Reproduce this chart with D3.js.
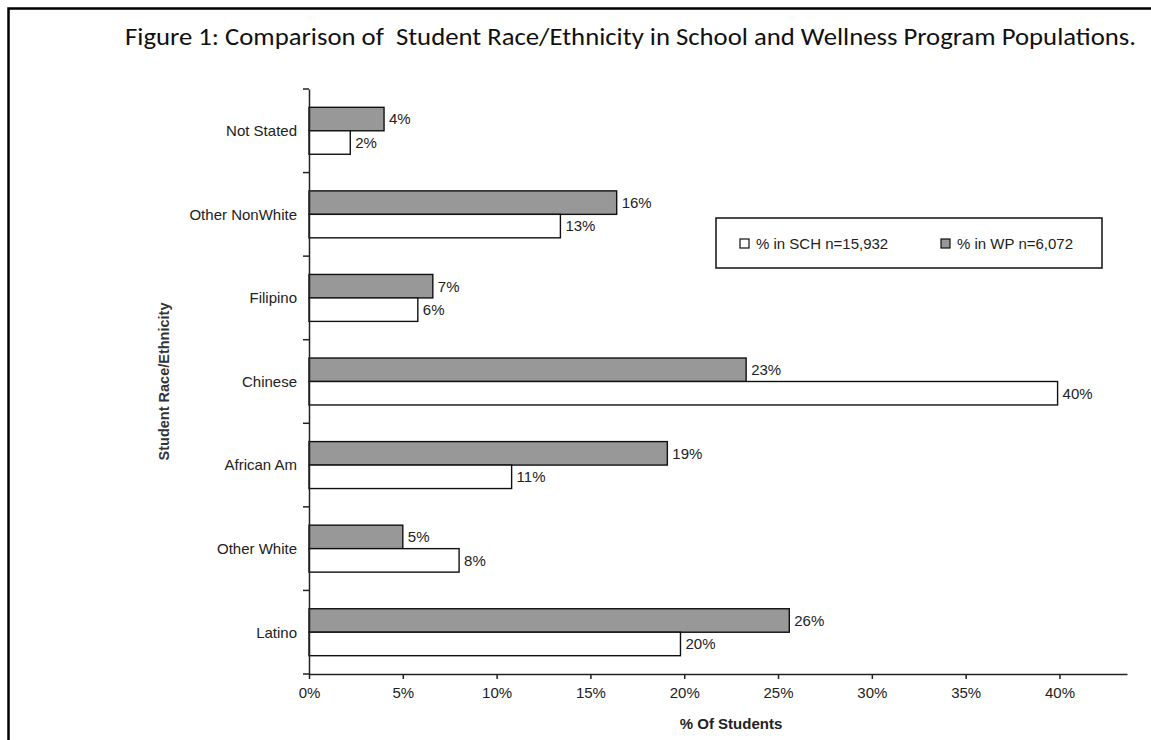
<!DOCTYPE html>
<html>
<head>
<meta charset="utf-8">
<script src="https://cdn.jsdelivr.net/npm/d3@7"></script>
<style>
  html, body { margin: 0; padding: 0; background: #fff; }
  svg { display: block; }
  .axis text { font-family: "Liberation Sans", Arial, sans-serif; font-size: 15px; fill: #222; }
  .axis path, .axis line { stroke: #222; stroke-width: 1.5; }
</style>
</head>
<body>
<div id="chart"></div>
<script>
// Data (percent of students)
const categories = ["Not Stated", "Other NonWhite", "Filipino", "Chinese", "African Am", "Other White", "Latino"];
const wpValues = [4.0, 16.4, 6.6, 23.3, 19.1, 5.0, 25.6];   // % in WP (gray)
const schValues = [2.2, 13.4, 5.8, 39.9, 10.8, 8.0, 19.8];  // % in SCH (white)
const xTicks = [0, 5, 10, 15, 20, 25, 30, 35, 40];
const seriesNames = ["WP", "SCH"];
const legendLabels = ["% in SCH n=15,932", "% in WP n=6,072"];
const titleText = "Figure 1: Comparison of  Student Race/Ethnicity in School and Wellness Program Populations.";

const width = 1151, height = 740;
const margin = { top: 89, left: 309, right: 24, bottom: 66 };
const innerW = width - margin.left - margin.right;
const innerH = height - margin.top - margin.bottom;
const fillFor = { WP: "#989898", SCH: "#ffffff" };
const font = '"Liberation Sans", Arial, sans-serif';

const svg = d3.select("#chart").append("svg")
  .attr("width", width).attr("height", height);

// page frame (only top and left edges visible)
svg.append("rect")
  .attr("x", 8.5).attr("y", 8.5).attr("width", 1300).attr("height", 900)
  .attr("fill", "none").attr("stroke", "#000").attr("stroke-width", 2.5);

svg.append("text")
  .attr("x", 125).attr("y", 45)
  .attr("textLength", 1011).attr("lengthAdjust", "spacingAndGlyphs")
  .style("white-space", "pre")
  .style("font-family", "Carlito, Calibri, 'Open Sans', sans-serif")
  .style("font-size", "24px").attr("fill", "#111")
  .text(titleText);

const g = svg.append("g").attr("transform", `translate(${margin.left},${margin.top})`);

const x = d3.scaleLinear().domain([0, 43.6]).range([0, innerW]);
const y = d3.scaleBand().domain(categories).range([0, innerH]);
const ySub = d3.scaleBand().domain(seriesNames).range([0, y.bandwidth()]).paddingOuter(0.78);

const rows = categories.map((c, i) => ({ cat: c, WP: wpValues[i], SCH: schValues[i] }));

const groups = g.selectAll(".cat").data(rows).join("g")
  .attr("class", "cat")
  .attr("transform", d => `translate(0,${y(d.cat)})`);

groups.selectAll("rect").data(d => seriesNames.map(k => ({ key: k, value: d[k] }))).join("rect")
  .attr("x", 0)
  .attr("y", d => ySub(d.key))
  .attr("width", d => x(d.value))
  .attr("height", ySub.bandwidth())
  .attr("fill", d => fillFor[d.key])
  .attr("stroke", "#111").attr("stroke-width", 1.4);

groups.selectAll(".val").data(d => seriesNames.map(k => ({ key: k, value: d[k] }))).join("text")
  .attr("class", "val")
  .attr("x", d => x(d.value) + 5)
  .attr("y", d => ySub(d.key) + ySub.bandwidth() / 2)
  .attr("dy", "0.36em")
  .style("font-family", font).style("font-size", "15px").attr("fill", "#222")
  .text(d => Math.round(d.value) + "%");

// x axis
g.append("g").attr("class", "axis")
  .attr("transform", `translate(0,${innerH})`)
  .call(d3.axisBottom(x).tickValues(xTicks).tickFormat(d => d + "%").tickSize(5).tickSizeOuter(0).tickPadding(8));

// y axis: labels centred in bands, ticks at band edges
const yAxis = g.append("g").attr("class", "axis")
  .call(d3.axisLeft(y).tickSize(0).tickPadding(12));
yAxis.selectAll(".tick text").attr("dy", "0.36em");
g.selectAll(".edge").data(d3.range(categories.length + 1)).join("line")
  .attr("class", "edge")
  .attr("x1", -6).attr("x2", 0)
  .attr("y1", i => i * y.step()).attr("y2", i => i * y.step())
  .attr("stroke", "#222").attr("stroke-width", 1.5);

// axis titles
svg.append("text")
  .attr("x", 731).attr("y", 729).attr("text-anchor", "middle")
  .style("font-family", font).style("font-size", "15px").style("font-weight", "bold").attr("fill", "#222")
  .text("% Of Students");

svg.append("text")
  .attr("transform", `translate(169,${margin.top + innerH / 2}) rotate(-90)`)
  .attr("text-anchor", "middle")
  .style("font-family", font).style("font-size", "14.5px").style("font-weight", "bold").attr("fill", "#333")
  .text("Student Race/Ethnicity");

// legend
const legend = svg.append("g").attr("transform", "translate(716,218)");
legend.append("rect").attr("width", 386).attr("height", 50)
  .attr("fill", "#fff").attr("stroke", "#111").attr("stroke-width", 1.5);
const legendKeys = ["SCH", "WP"];
const legendX = [24, 225];
legendKeys.forEach((k, i) => {
  legend.append("rect").attr("x", legendX[i]).attr("y", 21).attr("width", 9).attr("height", 9)
    .attr("fill", fillFor[k]).attr("stroke", "#111").attr("stroke-width", 1.2);
  legend.append("text").attr("x", legendX[i] + 16).attr("y", 31)
    .style("font-family", font).style("font-size", "15px").attr("fill", "#222")
    .text(legendLabels[i]);
});
</script>
</body>
</html>
